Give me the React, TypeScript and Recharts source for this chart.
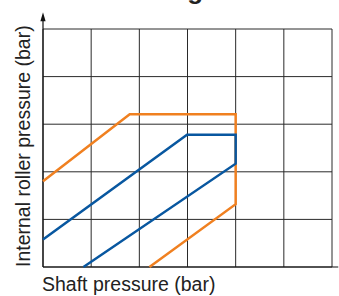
import { CartesianGrid, Line, LineChart, ReferenceLine, XAxis, YAxis } from "recharts";

const xTicks = [0, 1, 2, 3, 4, 5, 6];
const yTicks = [0, 1, 2, 3, 4, 5];

const orangeRange = [
  { x: 0, y: 1.8 },
  { x: 1.8, y: 3.21 },
  { x: 4.0, y: 3.21 },
  { x: 4.0, y: 1.32 },
  { x: 2.21, y: 0 },
];

const blueRange = [
  { x: 0, y: 0.58 },
  { x: 2.99, y: 2.78 },
  { x: 4.0, y: 2.78 },
  { x: 4.0, y: 2.17 },
  { x: 0.84, y: 0 },
];

const title = "Correction range";
const xLabel = "Shaft pressure (bar)";
const yLabel = "Internal roller pressure (bar)";

const font = "'Liberation Sans', Arial, sans-serif";

function ArrowAxis(props: any) {
  const { x1, y1, x2, y2 } = props;
  return (
    <g>
      <line x1={x1} y1={y1} x2={x2} y2={y2 + 6} stroke="#111" strokeWidth={1.2} />
      <polygon points={`${x2},${y2} ${x2 - 2.6},${y2 + 9} ${x2 + 2.6},${y2 + 9}`} fill="#111" />
    </g>
  );
}

export default function App() {
  return (
    <div style={{ position: "absolute", left: 0, top: 0, width: 339, height: 296, background: "#fff" }}>
      <LineChart
        width={339}
        height={296}
        margin={{ top: 29, right: 7, left: 43, bottom: 29 }}
      >
        <CartesianGrid stroke="#2a2a2a" strokeWidth={1} />
        <XAxis type="number" dataKey="x" domain={[0, 6]} ticks={xTicks} hide />
        <YAxis type="number" domain={[0, 5]} ticks={yTicks} hide />
        <ReferenceLine
          segment={[{ x: 0, y: 0 }, { x: 6.13, y: 0 }]}
          stroke="#111"
          strokeWidth={1.2}
          ifOverflow="visible"
        />
        <ReferenceLine
          segment={[{ x: 0, y: 0 }, { x: 0, y: 5.35 }]}
          ifOverflow="visible"
          shape={ArrowAxis}
        />
        <Line
          data={orangeRange}
          dataKey="y"
          type="linear"
          stroke="#f08020"
          strokeWidth={2.5}
          dot={false}
          isAnimationActive={false}
        />
        <Line
          data={blueRange}
          dataKey="y"
          type="linear"
          stroke="#0857a0"
          strokeWidth={2.5}
          dot={false}
          isAnimationActive={false}
        />
      </LineChart>
      <svg
        width={339}
        height={296}
        style={{ position: "absolute", left: 0, top: 0, pointerEvents: "none" }}
      >
        <text x={8} y={-1} fontFamily={font} fontSize={26} fontWeight="bold" fill="#222">
          {title}
        </text>
        <text x={42} y={291} fontFamily={font} fontSize={19.5} fill="#222">
          {xLabel}
        </text>
        <text
          x={30}
          y={267}
          fontFamily={font}
          fontSize={19.5}
          fill="#222"
          transform="rotate(-90 30 267)"
        >
          {yLabel}
        </text>
      </svg>
    </div>
  );
}
